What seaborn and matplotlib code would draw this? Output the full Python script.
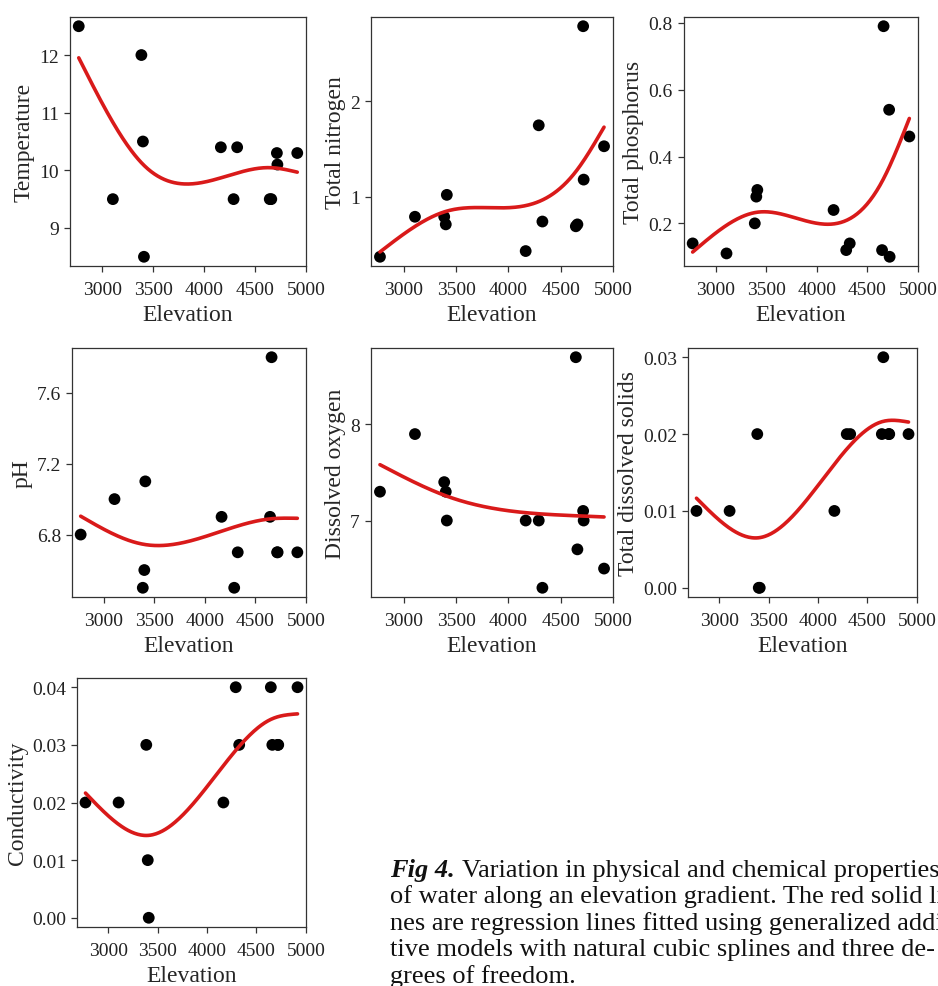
import numpy as np
import pandas as pd
import seaborn as sns
import matplotlib.pyplot as plt
from matplotlib.ticker import FixedLocator, FormatStrFormatter

## Data (13 sampling sites)
elevation = [2770, 3105, 3385, 3400, 3410, 4165, 4290, 4325, 4645, 4660, 4715, 4720, 4915]
temperature = [12.5, 9.5, 12.0, 10.5, 8.5, 10.4, 9.5, 10.4, 9.5, 9.5, 10.3, 10.1, 10.3]
nitrogen = [0.37, 0.79, 0.79, 0.71, 1.02, 0.43, 1.75, 0.74, 0.69, 0.71, 2.79, 1.18, 1.53]
phosphorus = [0.14, 0.11, 0.20, 0.28, 0.30, 0.24, 0.12, 0.14, 0.12, 0.79, 0.54, 0.10, 0.46]
ph = [6.8, 7.0, 6.5, 6.6, 7.1, 6.9, 6.5, 6.7, 6.9, 7.8, 6.7, 6.7, 6.7]
oxygen = [7.3, 7.9, 7.4, 7.3, 7.0, 7.0, 7.0, 6.3, 8.7, 6.7, 7.1, 7.0, 6.5]
tds = [0.01, 0.01, 0.02, 0.00, 0.00, 0.01, 0.02, 0.02, 0.02, 0.03, 0.02, 0.02, 0.02]
conductivity = [0.02, 0.02, 0.03, 0.01, 0.00, 0.02, 0.04, 0.03, 0.04, 0.03, 0.03, 0.03, 0.04]

labels = ["Temperature", "Total nitrogen", "Total phosphorus", "pH",
          "Dissolved oxygen", "Total dissolved solids", "Conductivity"]
x_ticks = [3000, 3500, 4000, 4500, 5000]
y_ticks = [[9, 10, 11, 12], [1, 2], [0.2, 0.4, 0.6, 0.8], [6.8, 7.2, 7.6],
           [7, 8], [0.00, 0.01, 0.02, 0.03], [0.00, 0.01, 0.02, 0.03, 0.04]]
y_fmt = ["%d", "%d", "%.1f", "%.1f", "%d", "%.2f", "%.2f"]

caption_head = "Fig 4."
caption_lines = [
    "Variation in physical and chemical properties",
    "of water along an elevation gradient. The red solid li-",
    "nes are regression lines fitted using generalized addi-",
    "tive models with natural cubic splines and three de-",
    "grees of freedom.",
]


def ns_fit(x, y, n=200):
    # least squares fit on a natural cubic spline basis, df = 3 (like R ns(x, df=3))
    x = np.asarray(x, float)
    y = np.asarray(y, float)
    lo, hi = x.min(), x.max()
    knots = np.concatenate([[0.0], (np.quantile(x, [1/3, 2/3]) - lo) / (hi - lo), [1.0]])
    K = len(knots)

    def basis(t):
        def d(k):
            return (np.clip(t - knots[k], 0, None)**3 - np.clip(t - knots[-1], 0, None)**3) / (knots[-1] - knots[k])
        cols = [np.ones_like(t), t] + [d(k) - d(K - 2) for k in range(K - 2)]
        return np.column_stack(cols)

    t = (x - lo) / (hi - lo)
    coef = np.linalg.lstsq(basis(t), y, rcond=None)[0]
    grid = np.linspace(0, 1, n)
    return lo + grid * (hi - lo), basis(grid) @ coef


sns.set_theme(style="ticks")
plt.rcParams['font.family'] = ['Liberation Serif', 'DejaVu Serif']
plt.rcParams['axes.edgecolor'] = '#333333'
plt.rcParams['xtick.color'] = '#333333'
plt.rcParams['ytick.color'] = '#333333'
plt.rcParams['xtick.labelcolor'] = '#222222'
plt.rcParams['ytick.labelcolor'] = '#222222'

fig = plt.figure(figsize=(9.38, 9.87), dpi=100)
W, H = 938, 987
# axes boxes in pixels: left, top, right, bottom
boxes = [(70, 18, 306, 267), (371, 18, 613, 267), (684, 18, 918, 267),
         (72, 349, 306, 598), (371, 349, 613, 598), (688, 349, 917, 598),
         (77, 679, 306, 928)]

series = [temperature, nitrogen, phosphorus, ph, oxygen, tds, conductivity]

for i, vals in enumerate(series):
    l, t, r, b = boxes[i]
    ax = fig.add_axes([l / W, 1 - b / H, (r - l) / W, (b - t) / H])
    df = pd.DataFrame({"Elevation": elevation, "value": vals})
    sns.scatterplot(data=df, x="Elevation", y="value", color="black", s=72,
                    edgecolor="none", ax=ax, zorder=3)
    gx, gy = ns_fit(df.Elevation, df.value)
    sns.lineplot(x=gx, y=gy, color="#d91a1a", lw=2.6, ax=ax, zorder=4)
    ax.margins(x=0.04, y=0.04)
    ax.xaxis.set_major_locator(FixedLocator(x_ticks))
    ax.yaxis.set_major_locator(FixedLocator(y_ticks[i]))
    ax.yaxis.set_major_formatter(FormatStrFormatter(y_fmt[i]))
    ax.tick_params(direction="out", length=4.5, width=0.9, labelsize=14)
    ax.tick_params(axis="x", pad=6)
    ax.tick_params(axis="y", pad=3.5)
    ax.set_xlabel("Elevation", fontsize=17, labelpad=4.5)
    ax.set_ylabel(labels[i], fontsize=17, labelpad=3)
    for sp in ax.spines.values():
        sp.set_visible(True)
        sp.set_linewidth(0.9)

# caption (runs off the right/bottom edge as in the source)
x0 = 390 / W
t1 = fig.text(x0, 1 - 877 / H, caption_head, fontsize=19, fontweight="bold",
              fontstyle="italic", va="baseline", color="#111111")
plt.annotate(caption_lines[0], xy=(1, 0), xycoords=t1, xytext=(5, 0),
             textcoords="offset points", va="bottom", fontsize=19, color="#111111",
             annotation_clip=False)
for j, line in enumerate(caption_lines[1:]):
    fig.text(x0, 1 - (877 + 26.5 * (j + 1)) / H, line, fontsize=19,
             va="baseline", color="#111111")

fig.savefig("out.png", dpi=100)
